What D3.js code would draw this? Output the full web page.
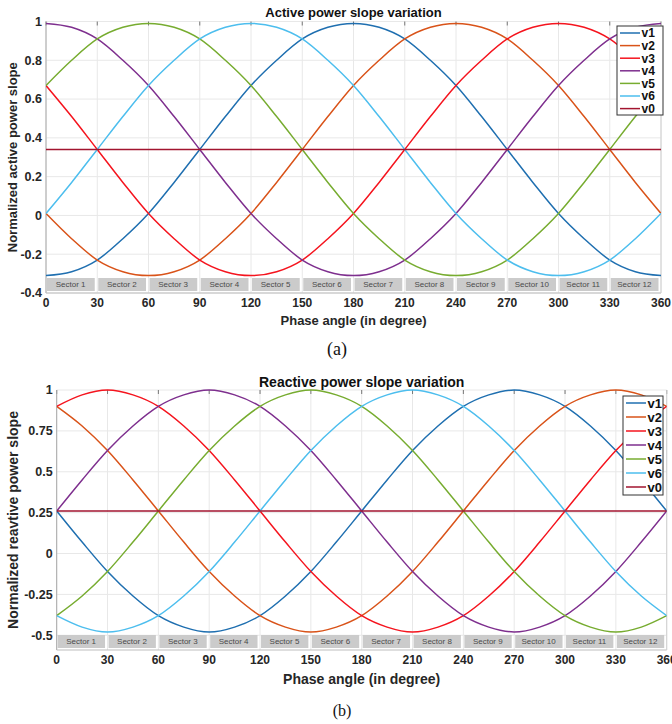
<!DOCTYPE html>
<html>
<head>
<meta charset="utf-8">
<script src="https://cdn.jsdelivr.net/npm/d3@7"></script>
<style>
  body { margin: 0; background: #fff; }
  svg { display: block; font-family: "Liberation Sans", Arial, sans-serif; }
</style>
</head>
<body>
<svg id="chart" width="672" height="724"></svg>
<script>
// phase angle samples (degrees)
var angles = [0, 15, 30, 45, 60, 75, 90, 105, 120, 135, 150, 165, 180,
              195, 210, 225, 240, 255, 270, 285, 300, 315, 330, 345, 360];

// (a) normalized active power slope
var activeV1 = [-0.31, -0.29, -0.23, -0.12, 0.01, 0.17, 0.34, 0.51, 0.67, 0.80, 0.91, 0.97, 0.99,
                0.97, 0.91, 0.80, 0.67, 0.51, 0.34, 0.17, 0.01, -0.12, -0.23, -0.29, -0.31];
var activeV2 = [0.01, -0.12, -0.23, -0.29, -0.31, -0.29, -0.23, -0.12, 0.01, 0.17, 0.34, 0.51, 0.67,
                0.80, 0.91, 0.97, 0.99, 0.97, 0.91, 0.80, 0.67, 0.51, 0.34, 0.17, 0.01];
var activeV3 = [0.67, 0.51, 0.34, 0.17, 0.01, -0.12, -0.23, -0.29, -0.31, -0.29, -0.23, -0.12, 0.01,
                0.17, 0.34, 0.51, 0.67, 0.80, 0.91, 0.97, 0.99, 0.97, 0.91, 0.80, 0.67];
var activeV4 = [0.99, 0.97, 0.91, 0.80, 0.67, 0.51, 0.34, 0.17, 0.01, -0.12, -0.23, -0.29, -0.31,
                -0.29, -0.23, -0.12, 0.01, 0.17, 0.34, 0.51, 0.67, 0.80, 0.91, 0.97, 0.99];
var activeV5 = [0.67, 0.80, 0.91, 0.97, 0.99, 0.97, 0.91, 0.80, 0.67, 0.51, 0.34, 0.17, 0.01,
                -0.12, -0.23, -0.29, -0.31, -0.29, -0.23, -0.12, 0.01, 0.17, 0.34, 0.51, 0.67];
var activeV6 = [0.01, 0.17, 0.34, 0.51, 0.67, 0.80, 0.91, 0.97, 0.99, 0.97, 0.91, 0.80, 0.67,
                0.51, 0.34, 0.17, 0.01, -0.12, -0.23, -0.29, -0.31, -0.29, -0.23, -0.12, 0.01];
var activeV0 = [0.34, 0.34, 0.34, 0.34, 0.34, 0.34, 0.34, 0.34, 0.34, 0.34, 0.34, 0.34, 0.34,
                0.34, 0.34, 0.34, 0.34, 0.34, 0.34, 0.34, 0.34, 0.34, 0.34, 0.34, 0.34];

// (b) normalized reactive power slope
var reactiveV1 = [0.26, 0.07, -0.11, -0.26, -0.38, -0.45, -0.48, -0.45, -0.38, -0.26, -0.11, 0.07, 0.26,
                  0.45, 0.63, 0.78, 0.90, 0.97, 1.00, 0.97, 0.90, 0.78, 0.63, 0.45, 0.26];
var reactiveV2 = [0.90, 0.78, 0.63, 0.45, 0.26, 0.07, -0.11, -0.26, -0.38, -0.45, -0.48, -0.45, -0.38,
                  -0.26, -0.11, 0.07, 0.26, 0.45, 0.63, 0.78, 0.90, 0.97, 1.00, 0.97, 0.90];
var reactiveV3 = [0.90, 0.97, 1.00, 0.97, 0.90, 0.78, 0.63, 0.45, 0.26, 0.07, -0.11, -0.26, -0.38,
                  -0.45, -0.48, -0.45, -0.38, -0.26, -0.11, 0.07, 0.26, 0.45, 0.63, 0.78, 0.90];
var reactiveV4 = [0.26, 0.45, 0.63, 0.78, 0.90, 0.97, 1.00, 0.97, 0.90, 0.78, 0.63, 0.45, 0.26,
                  0.07, -0.11, -0.26, -0.38, -0.45, -0.48, -0.45, -0.38, -0.26, -0.11, 0.07, 0.26];
var reactiveV5 = [-0.38, -0.26, -0.11, 0.07, 0.26, 0.45, 0.63, 0.78, 0.90, 0.97, 1.00, 0.97, 0.90,
                  0.78, 0.63, 0.45, 0.26, 0.07, -0.11, -0.26, -0.38, -0.45, -0.48, -0.45, -0.38];
var reactiveV6 = [-0.38, -0.45, -0.48, -0.45, -0.38, -0.26, -0.11, 0.07, 0.26, 0.45, 0.63, 0.78, 0.90,
                  0.97, 1.00, 0.97, 0.90, 0.78, 0.63, 0.45, 0.26, 0.07, -0.11, -0.26, -0.38];
var reactiveV0 = [0.26, 0.26, 0.26, 0.26, 0.26, 0.26, 0.26, 0.26, 0.26, 0.26, 0.26, 0.26, 0.26,
                  0.26, 0.26, 0.26, 0.26, 0.26, 0.26, 0.26, 0.26, 0.26, 0.26, 0.26, 0.26];

var seriesNames = ['v1', 'v2', 'v3', 'v4', 'v5', 'v6', 'v0'];
var seriesColors = ['#1f6fb0', '#d95319', '#f5141e', '#7e2f8e', '#77ac30', '#4dbeee', '#a2142f'];

var xTicks = [0, 30, 60, 90, 120, 150, 180, 210, 240, 270, 300, 330, 360];
var activeTicks = [-0.4, -0.2, 0, 0.2, 0.4, 0.6, 0.8, 1];
var reactiveTicks = [-0.5, -0.25, 0, 0.25, 0.5, 0.75, 1];
var sectorStarts = [0, 30, 60, 90, 120, 150, 180, 210, 240, 270, 300, 330];
var sectorLabels = ['Sector 1', 'Sector 2', 'Sector 3', 'Sector 4', 'Sector 5', 'Sector 6',
                    'Sector 7', 'Sector 8', 'Sector 9', 'Sector 10', 'Sector 11', 'Sector 12'];

var svg = d3.select('#chart');

var panels = [
  {
    id: 'a',
    title: 'Active power slope variation',
    yLabel: 'Normalized active power slope',
    caption: '(a)',
    series: [activeV1, activeV2, activeV3, activeV4, activeV5, activeV6, activeV0],
    yDomain: [-0.4, 1], yTicks: activeTicks,
    left: 46, right: 661, top: 21.5, bottom: 293,
    titleSize: 13, titleY: 17,
    labelSize: 13, labelY: 325, yLabelX: 17,
    capSize: 18, capX: 337, capY: 355,
    legend: { x: 617, y: 26, w: 46, h: 89, step: 12.6, font: 12 }
  },
  {
    id: 'b',
    title: 'Reactive power slope variation',
    yLabel: 'Normalized reavtive power slope',
    caption: '(b)',
    series: [reactiveV1, reactiveV2, reactiveV3, reactiveV4, reactiveV5, reactiveV6, reactiveV0],
    yDomain: [-0.59, 1], yTicks: reactiveTicks,
    left: 56.7, right: 666.7, top: 390, bottom: 650,
    titleSize: 14, titleY: 386.5,
    labelSize: 14, labelY: 684, yLabelX: 18,
    capSize: 16, capX: 342, capY: 716,
    legend: { x: 623, y: 396, w: 40, h: 99, step: 14, font: 13 }
  }
];

panels.forEach(function(p) { drawPanel(p); });

function drawPanel(p) {
  var x = d3.scaleLinear().domain([0, 360]).range([p.left, p.right]);
  var y = d3.scaleLinear().domain(p.yDomain).range([p.bottom, p.top]);
  var g = svg.append('g');

  g.append('clipPath').attr('id', 'clip-' + p.id)
    .append('rect')
    .attr('x', p.left).attr('y', p.top - 2)
    .attr('width', p.right - p.left).attr('height', p.bottom - p.top + 2);

  g.append('rect')
    .attr('x', p.left).attr('y', p.top)
    .attr('width', p.right - p.left).attr('height', p.bottom - p.top)
    .attr('fill', '#fff');

  // grid
  g.selectAll('.gx').data(xTicks).enter().append('line')
    .attr('x1', function(d) { return x(d); }).attr('x2', function(d) { return x(d); })
    .attr('y1', p.top).attr('y2', p.bottom)
    .attr('stroke', '#e8e8e8').attr('stroke-width', 1);
  g.selectAll('.gy').data(p.yTicks).enter().append('line')
    .attr('x1', p.left).attr('x2', p.right)
    .attr('y1', function(d) { return y(d); }).attr('y2', function(d) { return y(d); })
    .attr('stroke', '#e8e8e8').attr('stroke-width', 1);

  // small tick marks along the top edge
  g.selectAll('.tt').data(xTicks).enter().append('line')
    .attr('x1', function(d) { return x(d); }).attr('x2', function(d) { return x(d); })
    .attr('y1', p.top).attr('y2', p.top + 4)
    .attr('stroke', '#777').attr('stroke-width', 1);

  // sector boxes
  var sec = g.selectAll('.sector').data(sectorStarts).enter().append('g');
  sec.append('rect')
    .attr('x', function(d) { return x(d) + 1; })
    .attr('y', p.bottom - 15)
    .attr('width', function(d) { return x(d + 30) - x(d) - 3.5; })
    .attr('height', 13)
    .attr('fill', '#cbcbcb');
  sec.append('text')
    .attr('x', function(d) { return x(d + 15) - 1; })
    .attr('y', p.bottom - 8.5)
    .attr('dominant-baseline', 'central')
    .attr('text-anchor', 'middle')
    .attr('font-size', 8)
    .attr('fill', '#4a4a4a')
    .text(function(d, i) { return sectorLabels[i]; });

  // frame
  g.append('line').attr('x1', p.left).attr('x2', p.left)
    .attr('y1', p.top).attr('y2', p.bottom).attr('stroke', '#a8a8a8');
  g.append('line').attr('x1', p.left).attr('x2', p.right)
    .attr('y1', p.bottom).attr('y2', p.bottom).attr('stroke', '#bdbdbd');
  g.append('line').attr('x1', p.right).attr('x2', p.right)
    .attr('y1', p.top).attr('y2', p.bottom).attr('stroke', '#d0d0d0');

  // curves
  var line = d3.line()
    .x(function(d, i) { return x(angles[i]); })
    .y(function(d) { return y(d); })
    .curve(d3.curveMonotoneX);
  g.append('g').attr('clip-path', 'url(#clip-' + p.id + ')')
    .selectAll('path').data(p.series).enter().append('path')
    .attr('d', line)
    .attr('fill', 'none')
    .attr('stroke', function(d, i) { return seriesColors[i]; })
    .attr('stroke-width', 1.5);

  // axes labels
  g.selectAll('.xt').data(xTicks).enter().append('text')
    .attr('x', function(d) { return x(d); })
    .attr('y', p.bottom + 14)
    .attr('text-anchor', 'middle')
    .attr('font-size', 12).attr('font-weight', 'bold').attr('fill', '#262626')
    .text(function(d) { return d; });
  g.selectAll('.yt').data(p.yTicks).enter().append('text')
    .attr('x', p.left - 4)
    .attr('y', function(d) { return y(d); })
    .attr('dy', '0.35em')
    .attr('text-anchor', 'end')
    .attr('font-size', 12.5).attr('font-weight', 'bold').attr('fill', '#262626')
    .text(function(d) { return String(d); });

  g.append('text')
    .attr('x', (p.left + p.right) / 2).attr('y', p.titleY)
    .attr('text-anchor', 'middle')
    .attr('font-size', p.titleSize).attr('font-weight', 'bold').attr('fill', '#111')
    .text(p.title);
  g.append('text')
    .attr('x', (p.left + p.right) / 2).attr('y', p.labelY)
    .attr('text-anchor', 'middle')
    .attr('font-size', p.labelSize).attr('font-weight', 'bold').attr('fill', '#262626')
    .text('Phase angle (in degree)');
  g.append('text')
    .attr('transform', 'translate(' + p.yLabelX + ',' + ((p.top + p.bottom) / 2) + ') rotate(-90)')
    .attr('text-anchor', 'middle')
    .attr('font-size', p.labelSize).attr('font-weight', 'bold').attr('fill', '#262626')
    .text(p.yLabel);
  g.append('text')
    .attr('x', p.capX).attr('y', p.capY)
    .attr('text-anchor', 'middle')
    .attr('font-family', '"Liberation Serif", "Times New Roman", serif')
    .attr('font-size', p.capSize).attr('fill', '#111')
    .text(p.caption);

  // legend
  var L = p.legend;
  var lg = g.append('g');
  lg.append('rect')
    .attr('x', L.x).attr('y', L.y).attr('width', L.w).attr('height', L.h)
    .attr('fill', '#fff').attr('stroke', '#333').attr('stroke-width', 1);
  var item = lg.selectAll('.item').data(seriesNames).enter().append('g')
    .attr('transform', function(d, i) {
      return 'translate(' + L.x + ',' + (L.y + 7 + i * L.step) + ')';
    });
  item.append('line')
    .attr('x1', 3).attr('x2', 23)
    .attr('stroke', function(d, i) { return seriesColors[i]; })
    .attr('stroke-width', 1.5);
  item.append('text')
    .attr('x', 24.5).attr('dy', '0.36em')
    .attr('font-size', L.font).attr('font-weight', 'bold').attr('fill', '#111')
    .text(function(d) { return d; });
}
</script>
</body>
</html>
